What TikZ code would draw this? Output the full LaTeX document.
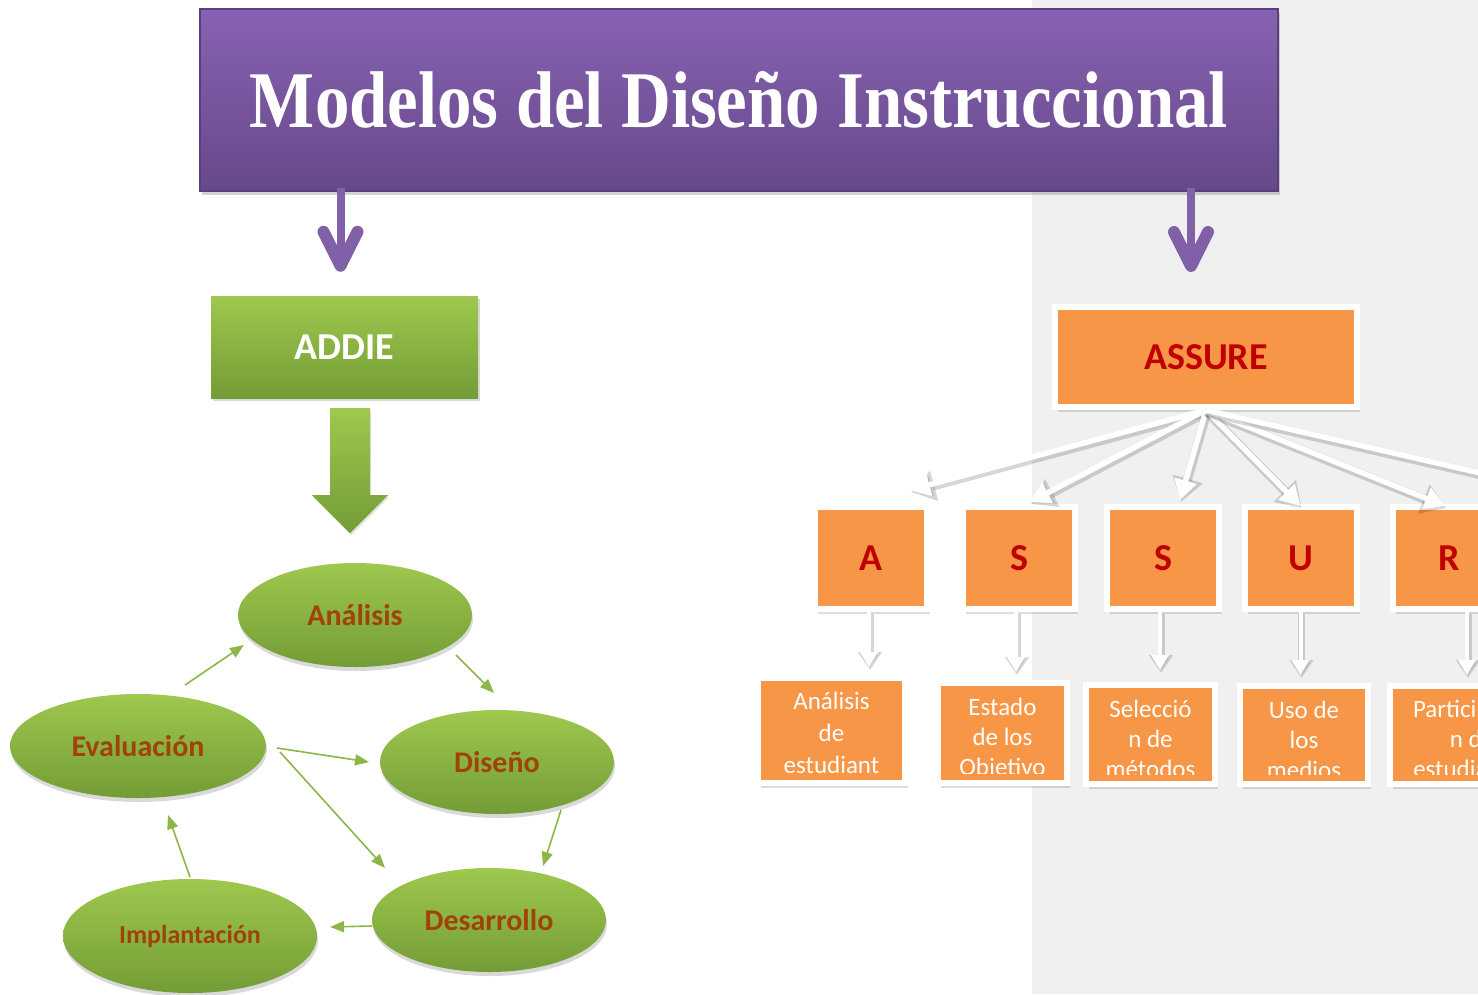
\documentclass[tikz,border=0pt]{standalone}
\usepackage{fontspec}
\setmainfont{Carlito}
\newfontfamily\titlefont{Liberation Serif}
\usetikzlibrary{shapes.geometric,arrows.meta,shadows,calc}
\definecolor{bggray}{RGB}{240,240,240}
\definecolor{ptop}{RGB}{136,98,178}
\definecolor{pbot}{RGB}{102,73,138}
\definecolor{pedge}{RGB}{90,64,122}
\definecolor{parr}{RGB}{128,96,166}
\definecolor{gtop}{RGB}{158,200,78}
\definecolor{gbot}{RGB}{116,156,54}
\definecolor{gline}{RGB}{140,182,72}
\definecolor{etext}{RGB}{160,66,10}
\definecolor{orng}{RGB}{247,150,70}
\definecolor{lred}{RGB}{192,0,0}
\newcommand{\wconn}[3][]{%
  \draw[wshade,#1] #2 -- #3;
  \draw[warrow,#1] #2 -- #3;}
\newcommand{\vconn}[3][]{%
  \draw[vshade,#1] #2 -- #3;
  \draw[varrow,#1] #2 -- #3;}
\begin{document}
\begin{tikzpicture}[x=1pt,y=-1pt,
  titlebox/.style={rectangle, draw=pedge, line width=1.2pt, top color=ptop, bottom color=pbot, inner sep=0pt, text=white,
    drop shadow={shadow xshift=2pt, shadow yshift=-4pt, opacity=0.35}},
  gbox/.style={rectangle, inner sep=0pt, top color=gtop, bottom color=gbot, text=white,
    font=\bfseries\fontsize{38}{44}\selectfont, drop shadow={shadow xshift=2pt, shadow yshift=-3pt, opacity=0.3}},
  ell/.style={ellipse, inner sep=0pt, top color=gtop, bottom color=gbot, text=etext,
    font=\bfseries\fontsize{30}{36}\selectfont, drop shadow={shadow xshift=1pt, shadow yshift=-4pt, opacity=0.3}},
  obox/.style={rectangle, inner sep=0pt, fill=orng, draw=white, line width=6pt,
    drop shadow={shadow xshift=3pt, shadow yshift=-4.5pt, opacity=0.28}},
  ltr/.style={text=lred, font=\bfseries\fontsize{38}{44}\selectfont},
  dtext/.style={text=white, align=center, inner sep=0pt, anchor=north, font=\fontsize{25}{30}\selectfont},
  garrow/.style={draw=gline, line width=1.6pt, -{Triangle[length=14pt,width=11pt]}},
  parrow/.style={draw=parr, line width=8pt, -{Straight Barb[length=34pt,width=34pt,line width=12pt,round]}},
  warrow/.style={draw=white, line width=5.5pt, -{Triangle[length=20pt,width=22pt]}},
  wshade/.style={draw=black, opacity=0.16, line width=9pt, -{Triangle[length=24pt,width=30pt]},
    transform canvas={shift={(1pt,-2pt)}}},
  varrow/.style={draw=white, line width=4pt, -{Triangle[length=15pt,width=17pt]}, shorten >=8pt},
  vshade/.style={draw=black, opacity=0.16, line width=7pt, -{Triangle[length=18pt,width=23pt]}, shorten >=7pt,
    transform canvas={shift={(1pt,-2pt)}}}
]
\useasboundingbox (0,0) rectangle (1478,994);
\clip (0,0) rectangle (1478,994);
\fill[bggray] (1032,0) rectangle (1478,994);

% title
\node[titlebox, minimum width=1078pt, minimum height=182pt] (title) at (739,100)
  {\resizebox{978pt}{56pt}{\titlefont\bfseries Modelos del Diseño Instruccional}};

% ADDIE branch
\node[gbox, minimum width=267pt, minimum height=102pt] (addie) at (344.5,347) {ADDIE};
\node[ell, minimum width=234pt, minimum height=104pt] (ana) at (355,615) {Análisis};
\node[ell, minimum width=256pt, minimum height=104pt] (eva) at (138,746) {Evaluación};
\node[ell, minimum width=234pt, minimum height=104pt] (dis) at (497,762) {Diseño};
\node[ell, minimum width=234pt, minimum height=104pt] (des) at (489,920) {Desarrollo};
\node[ell, minimum width=254pt, minimum height=114pt, font=\bfseries\fontsize{26}{30}\selectfont] (imp) at (190,936) {Implantación};

\coordinate (ga) at ($(addie.south)+(5.5,0)$);
\shade[top color=gtop, bottom color=gbot, drop shadow={shadow xshift=1pt, shadow yshift=-2pt, opacity=0.25}]
  ($(ga)+(-20,10)$) -- ($(ga)+(20,10)$) -- ($(ga)+(20,97)$) -- ($(ga)+(38,97)$) -- ($(ga)+(0,135)$)
  -- ($(ga)+(-38,97)$) -- ($(ga)+(-20,97)$) -- cycle;

\draw[garrow] ($(eva)+(47,-61)$) -- ($(ana)+(-111,30)$);
\draw[garrow] ($(ana)+(101,40)$) -- ($(dis)+(-3,-69)$);
\draw[garrow] ($(eva)+(139,2)$) -- ($(dis)+(-128,0)$);
\draw[garrow] ($(eva)+(142,6)$) -- ($(des)+(-104,-52)$);
\draw[garrow] ($(dis)+(64,48)$) -- ($(des)+(54,-54)$);
\draw[garrow] ($(des)+(-117,6)$) -- ($(imp)+(140,-9)$);
\draw[garrow] ($(imp)+(0,-59)$) -- ($(eva)+(30,69)$);

% ASSURE branch
\node[obox, minimum width=302pt, minimum height=100pt, ltr] (assure) at (1206,357) {ASSURE};
\node[obox, minimum width=112pt, minimum height=102pt, ltr] (A)  at (871,558) {A};
\node[obox, minimum width=112pt, minimum height=102pt, ltr] (S1) at (1019,558) {S};
\node[obox, minimum width=112pt, minimum height=102pt, ltr] (S2) at (1163,558) {S};
\node[obox, minimum width=112pt, minimum height=102pt, ltr] (U)  at (1300.5,558) {U};
\node[obox, minimum width=112pt, minimum height=102pt, ltr] (R)  at (1449,558) {R};

\node[obox, minimum width=147pt, minimum height=105pt] (d1) at (831.5,730.5) {};
\node[obox, minimum width=129pt, minimum height=100pt] (d2) at (1002.5,733) {};
\node[obox, minimum width=129pt, minimum height=99pt] (d3) at (1150.5,734.5) {};
\node[obox, minimum width=128pt, minimum height=98pt] (d4) at (1304,735) {};
\node[obox, minimum width=164pt, minimum height=98pt] (d5) at (1472,735) {};

\begin{scope}
  \clip ($(d1.south west)+(6,-13)$) rectangle ($(d1.north east)+(-6,6)$);
  \node[dtext, font=\fontsize{25}{32}\selectfont] (t1) at ($(d1.center)+(0,-39)$) {Análisis\\de\\estudiant};
\end{scope}
\begin{scope}
  \clip ($(d2.south west)+(6,-13)$) rectangle ($(d2.north east)+(-6,6)$);
  \node[dtext] (t2) at ($(d2.center)+(0,-35)$) {Estado\\de los\\Objetivo};
\end{scope}
\begin{scope}
  \clip ($(d3.south west)+(6,-13)$) rectangle ($(d3.north east)+(-6,6)$);
  \node[dtext] (t3) at ($(d3.center)+(0,-35)$) {Selecció\\n de\\métodos};
\end{scope}
\begin{scope}
  \clip ($(d4.south west)+(6,-13)$) rectangle ($(d4.north east)+(-6,6)$);
  \node[dtext] (t4) at ($(d4.center)+(0,-34)$) {Uso de\\los\\medios};
\end{scope}
\begin{scope}
  \clip ($(d5.south west)+(6,-13)$) rectangle ($(d5.north east)+(-6,6)$);
  \node[dtext] (t5) at ($(d5.center)+(0,-35)$) {Participació\\n de\\estudiantes};
\end{scope}

\coordinate (Eend) at (1620,505);
\wconn{(assure.south)}{($(A.north)+(39,-14)$)}
\wconn{(assure.south)}{($(S1.north)+(11,-2)$)}
\wconn{(assure.south)}{($(S2.north)+(17,-4)$)}
\wconn{(assure.south)}{($(U.north)+(0,2)$)}
\wconn{(assure.south)}{($(R.north)+(-4,2)$)}
\wconn{(assure.south)}{(Eend)}

\vconn{($(A.south)+(-2,0)$)}{($(A.south |- d1.north)+(-2,0)$)}
\vconn{($(S1.south)+(-3,0)$)}{($(S1.south |- d2.north)+(-3,0)$)}
\vconn{($(S2.south)+(-3,0)$)}{($(S2.south |- d3.north)+(-3,-4)$)}
\vconn{(U.south)}{(U.south |- d4.north)}
\vconn{($(R.south)+(18,0)$)}{($(R.south |- d5.north)+(18,0)$)}

% purple arrows
\draw[parrow, shorten >=24pt] ($(title.south -| addie.north)+(-4,-4)$) -- ($(addie.north)+(-4,0)$);
\draw[parrow, shorten >=32pt] ($(title.south -| assure.north)+(-15,-4)$) -- ($(assure.north)+(-15,0)$);
\end{tikzpicture}
\end{document}
